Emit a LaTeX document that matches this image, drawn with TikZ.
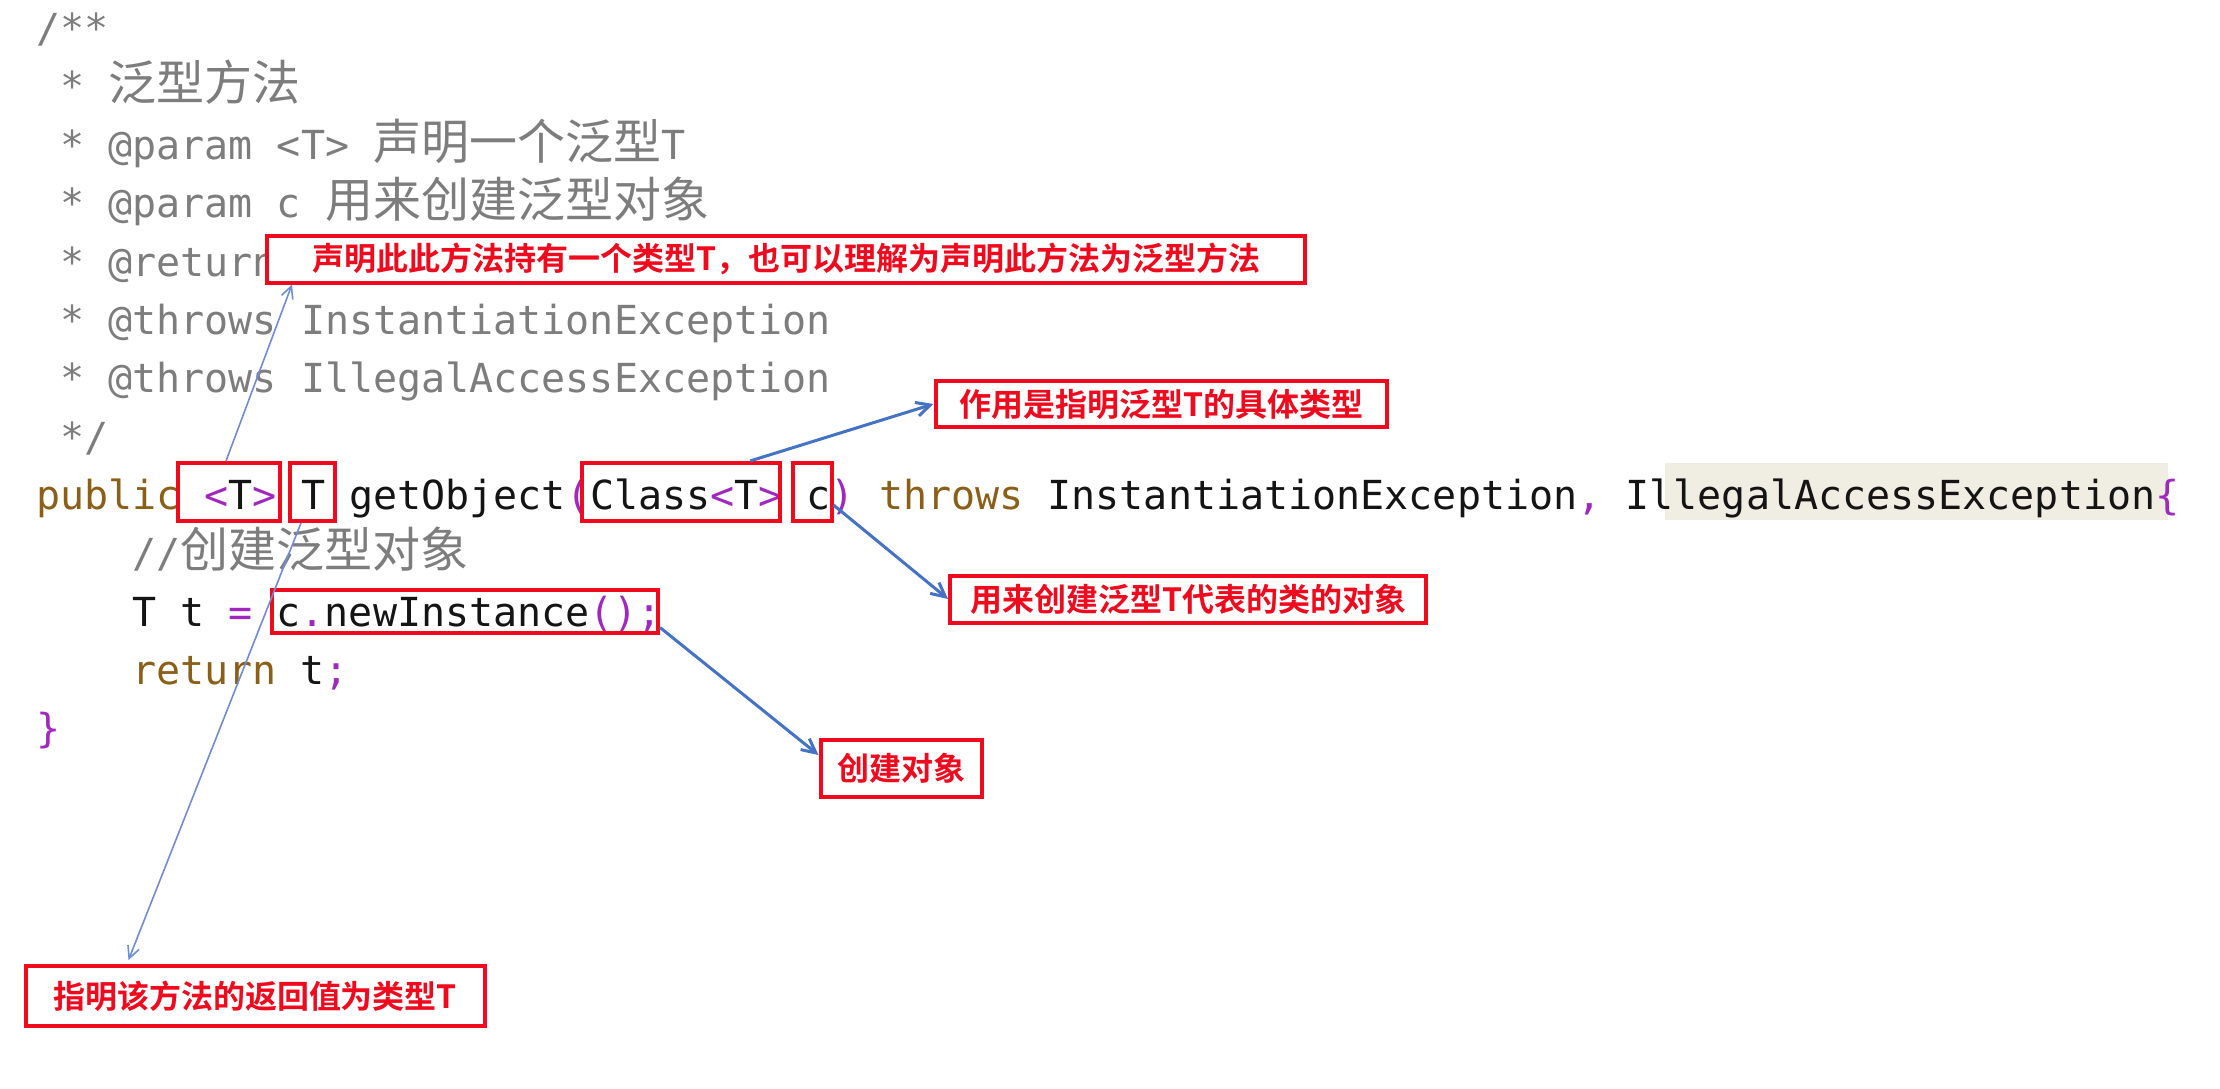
\documentclass[tikz,border=0pt]{standalone}
\usepackage{fontspec}
\setmonofont{DejaVu Sans Mono}
\newfontfamily\cjk{Noto Sans CJK SC}[Scale=1.2]
\newfontfamily\cjkb{Noto Sans CJK SC Bold}
\usetikzlibrary{arrows.meta}
\definecolor{kw}{RGB}{140,95,25}
\definecolor{pu}{RGB}{160,40,190}
\definecolor{cm}{RGB}{125,125,125}
\definecolor{tx}{RGB}{20,20,20}
\definecolor{hl}{RGB}{240,238,226}
\definecolor{bl}{RGB}{68,114,196}
\definecolor{lbl}{RGB}{110,140,215}
\definecolor{rd}{RGB}{240,10,30}
\newcommand{\Kw}[1]{\textcolor{kw}{#1}}
\newcommand{\Pu}[1]{\textcolor{pu}{#1}}
\newcommand{\Cj}[1]{{\cjk #1}}
\tikzset{
 code/.style={anchor=base west,inner sep=0,font=\fontsize{40}{40}\selectfont\ttfamily,text=tx},
 cmt/.style={code,text=cm},
 hbox/.style={draw=rd,line width=4pt,inner sep=0},
 lab/.style={draw=rd,line width=4pt,inner sep=0,text=rd,font=\fontsize{32}{32}\selectfont\cjkb},
 thinarr/.style={draw=lbl,line width=1.6pt,-{Straight Barb[length=12pt,width=12pt]}},
 thickarr/.style={draw=bl,line width=3pt,-{Straight Barb[length=14pt,width=14pt]}}
}
\begin{document}
\begin{tikzpicture}[x=1pt,y=-1pt]
\useasboundingbox[fill=white] (0,0) rectangle (2220,1088);
\fill[hl] (1665,463) rectangle (2168,520);
\node[cmt] (l1) at (36,42) {/**};
\node[cmt] (l2) at (60,100) {* \Cj{泛型方法}};
\node[cmt] (l3) at (60,159) {* @param <T> \Cj{声明一个泛型}T};
\node[cmt] (l4) at (60,217) {* @param c \Cj{用来创建泛型对象}};
\node[cmt] (l5) at (60,276) {* @return};
\node[cmt] (l6) at (60,334) {* @throws InstantiationException};
\node[cmt] (l7) at (60,392) {* @throws IllegalAccessException};
\node[cmt] (l8) at (60,451) {*/};
\node[code] (l9) at (36,509) {\Kw{public} \Pu{<}T\Pu{>} T getObject\Pu{(}Class\Pu{<}T\Pu{>} c\Pu{)} \Kw{throws} InstantiationException\Pu{,} IllegalAccessException\Pu{\{}};
\node[cmt] (l10) at (132,567) {//\Cj{创建泛型对象}};
\node[code] (l11) at (132,626) {T t \Pu{=} c\Pu{.}newInstance\Pu{();}};
\node[code] (l12) at (132,684) {\Kw{return} t\Pu{;}};
\node[code] (l13) at (36,742) {\Pu{\}}};
% highlight boxes
\node[hbox,minimum width=102pt,minimum height=58pt] (bT1) at (229,492) {};
\node[hbox,minimum width=45pt,minimum height=58pt] (bT2) at (312,492) {};
\node[hbox,minimum width=198pt,minimum height=58pt] (bCl) at (681,492) {};
\node[hbox,minimum width=39pt,minimum height=58pt] (bc) at (812,492) {};
\node[hbox,minimum width=386pt,minimum height=43pt] (bNew) at (465,611) {};
% labels
\node[lab,fill=white,minimum width=1038pt,minimum height=47pt] (L1) at (786,259) {声明此此方法持有一个类型T，也可以理解为声明此方法为泛型方法};
\node[lab,minimum width=451pt,minimum height=46pt] (L2) at (1161,404) {作用是指明泛型T的具体类型};
\node[lab,minimum width=476pt,minimum height=47pt] (L3) at (1188,599) {用来创建泛型T代表的类的对象};
\node[lab,minimum width=161pt,minimum height=57pt] (L4) at (901,768) {创建对象};
\node[lab,minimum width=459pt,minimum height=60pt] (L5) at (255,996) {指明该方法的返回值为类型T};
% arrows
\draw[thinarr] ([xshift=-3pt]bT1.north) -- ([xshift=27pt]L1.south west);
\draw[thinarr] ([xshift=-11pt]bT2.south) -- ([xshift=105pt,yshift=4pt]L5.north west);
\draw[thickarr] ([xshift=69pt]bCl.north) -- (L2.west);
\draw[thickarr] ([yshift=18pt]bc.south east) -- (L3.west);
\draw[thickarr] ([yshift=7pt]bNew.south east) -- ([yshift=13pt]L4.west);
\end{tikzpicture}
\end{document}
